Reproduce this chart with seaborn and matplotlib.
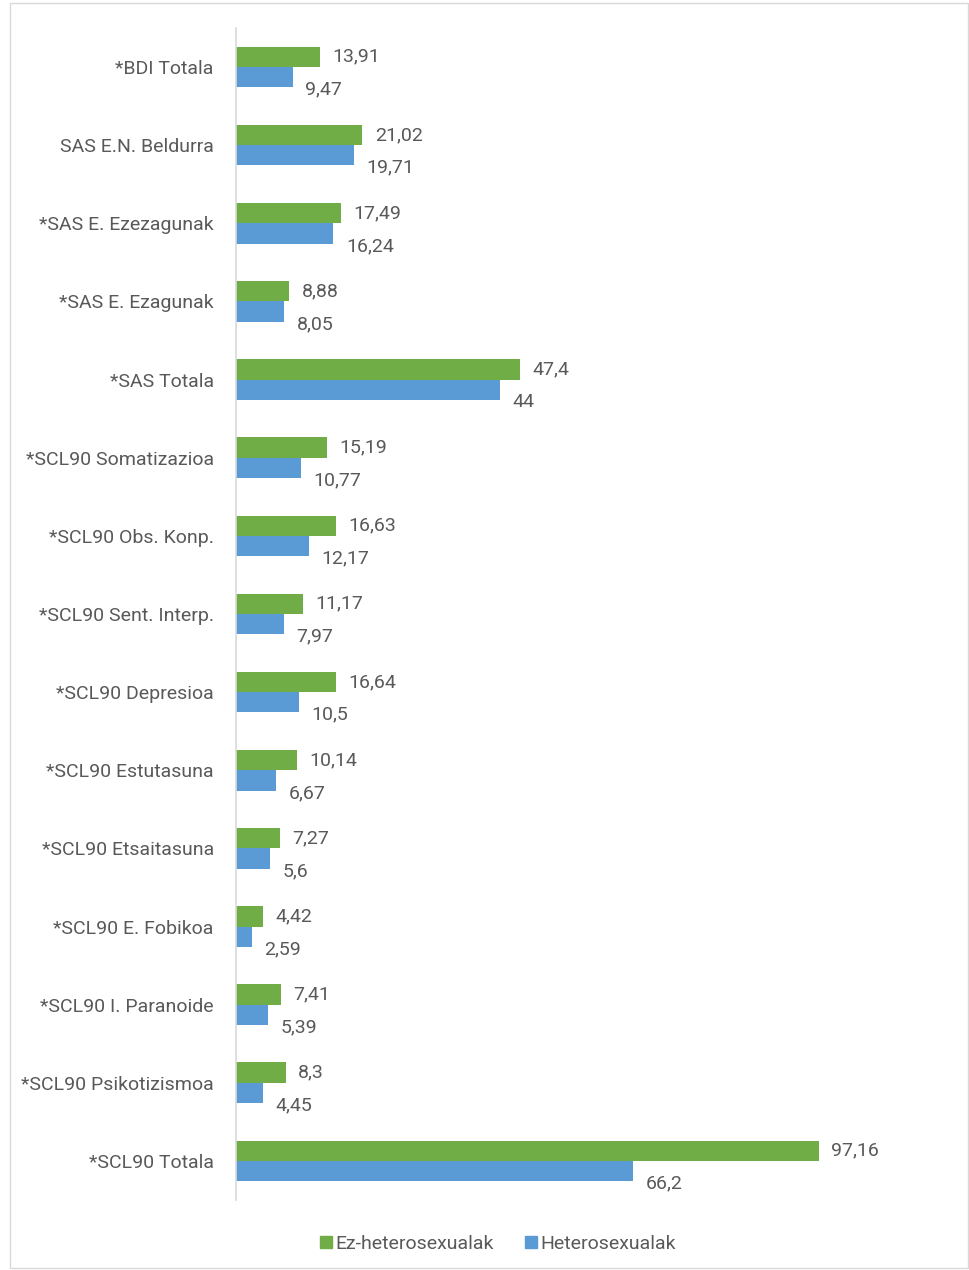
import matplotlib
matplotlib.use("Agg")
import matplotlib.pyplot as plt
import seaborn as sns
import pandas as pd
from matplotlib.patches import Rectangle
from matplotlib.lines import Line2D

categories = ["*BDI Totala", "SAS E.N. Beldurra", "*SAS E. Ezezagunak", "*SAS E. Ezagunak",
              "*SAS Totala", "*SCL90 Somatizazioa", "*SCL90 Obs. Konp.", "*SCL90 Sent. Interp.",
              "*SCL90 Depresioa", "*SCL90 Estutasuna", "*SCL90 Etsaitasuna", "*SCL90 E. Fobikoa",
              "*SCL90 I. Paranoide", "*SCL90 Psikotizismoa", "*SCL90 Totala"]
ez_hetero = [13.91, 21.02, 17.49, 8.88, 47.4, 15.19, 16.63, 11.17, 16.64, 10.14, 7.27, 4.42, 7.41, 8.3, 97.16]
hetero = [9.47, 19.71, 16.24, 8.05, 44, 10.77, 12.17, 7.97, 10.5, 6.67, 5.6, 2.59, 5.39, 4.45, 66.2]
series = ["Ez-heterosexualak", "Heterosexualak"]
colors = ["#70AD47", "#5B9BD5"]

df = pd.DataFrame({
    "cat": categories * 2,
    "val": ez_hetero + hetero,
    "group": [series[0]] * len(categories) + [series[1]] * len(categories),
})

sns.set_style("white")
plt.rcParams["font.family"] = ["Roboto", "DejaVu Sans"]
text_color = "#595959"
fs = 14

fig = plt.figure(figsize=(9.69, 12.7), dpi=100)
ax = fig.add_axes([0.2436, 0.0551, 0.7430, 0.9229])

sns.barplot(data=df, x="val", y="cat", hue="group", hue_order=series, palette=colors,
            orient="h", width=0.52, saturation=1, linewidth=0, ax=ax, legend=False)

ax.set_xlim(0, 120)
ax.set_xlabel("")
ax.set_ylabel("")
ax.set_xticks([])
ax.tick_params(axis="y", length=0, pad=16, labelsize=fs, labelcolor=text_color)
for s in ["top", "right", "bottom"]:
    ax.spines[s].set_visible(False)
ax.spines["left"].set_color("#D9D9D9")
ax.spines["left"].set_linewidth(1.2)

# etiketak
offsets = [(9, 0), (9, -9)]
for cont, (dx, dy) in zip(ax.containers, offsets):
    for bar in cont:
        w = bar.get_width()
        lab = f"{w:g}".replace(".", ",")
        ax.annotate(lab, (w, bar.get_y() + bar.get_height() / 2), xytext=(dx, dy),
                    textcoords="offset points", ha="left", va="center",
                    fontsize=fs, color=text_color)

handles = [Line2D([0], [0], marker="s", linestyle="", markersize=9,
                  markerfacecolor=c, markeredgecolor=c) for c in colors]
fig.legend(handles, series, loc="center", bbox_to_anchor=(0.513, 0.0205), ncol=2,
           frameon=False, fontsize=fs, labelcolor=text_color, handletextpad=0.1,
           columnspacing=1.5, handlelength=0.8)

fig.patches.append(Rectangle((10 / 969, 2 / 1270), 958 / 969, 1265 / 1270, transform=fig.transFigure,
                             fill=False, edgecolor="#D9D9D9", linewidth=1))

fig.savefig("out.png", dpi=100)
